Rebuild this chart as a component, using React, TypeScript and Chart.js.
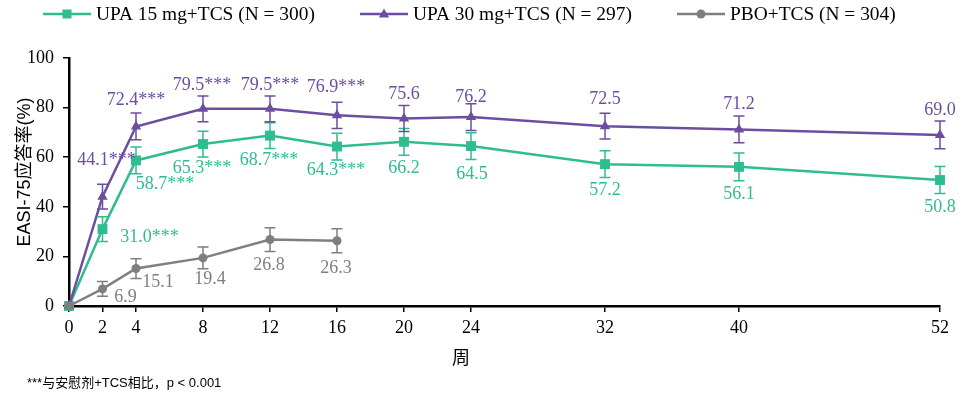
import { useEffect, useRef } from 'react'
import { Chart, registerables } from 'chart.js'

Chart.register(...registerables)

const WEEKS = [0, 2, 4, 8, 12, 16, 20, 24, 32, 40, 52]
const PBO_WEEKS = [0, 2, 4, 8, 12, 16]
const Y_TICKS = [0, 20, 40, 60, 80, 100]

const UPA15_RATE = [0, 31.0, 58.7, 65.3, 68.7, 64.3, 66.2, 64.5, 57.2, 56.1, 50.8]
const UPA15_ERR = [0, 5.0, 5.4, 5.2, 5.2, 5.4, 5.4, 5.4, 5.4, 5.6, 5.4]
const UPA15_SIG = [false, true, true, true, true, true, false, false, false, false, false]

const UPA30_RATE = [0, 44.1, 72.4, 79.5, 79.5, 76.9, 75.6, 76.2, 72.5, 71.2, 69.0]
const UPA30_ERR = [0, 5.0, 5.4, 5.2, 5.2, 5.3, 5.2, 5.4, 5.2, 5.4, 5.6]
const UPA30_SIG = [false, true, true, true, true, true, false, false, false, false, false]

const PBO_RATE = [0, 6.9, 15.1, 19.4, 26.8, 26.3]
const PBO_ERR = [0, 3.0, 4.0, 4.4, 4.8, 4.8]
const PBO_SIG = [false, false, false, false, false, false]

// label centre offset from its point, in px
const UPA15_LABEL_POS = [null, [47, 8], [29, 24], [-1, 24], [-1, 25], [-1, 24], [0, 26], [1, 28], [0, 26], [0, 27], [0, 27]]
const UPA30_LABEL_POS = [null, [4, -36], [0, -26], [-1, -24], [0, -24], [-1, -28], [0, -24], [0, -20], [0, -27], [0, -25], [0, -25]]
const PBO_LABEL_POS = [null, [23, 8], [22, 14], [7, 21], [-1, 26], [-1, 27]]

const TEAL = '#2fbd8f'
const PURPLE = '#6c4ea0'
const GRAY = '#7f7f7f'

const SERIF = '"Liberation Serif", "Times New Roman", serif'
const SANS = '"Liberation Sans", Arial, "Noto Sans CJK SC", sans-serif'

const SERIES = [
  { label: 'UPA 15 mg+TCS (N = 300)', weeks: WEEKS, rate: UPA15_RATE, err: UPA15_ERR, sig: UPA15_SIG, pos: UPA15_LABEL_POS, color: TEAL, style: 'rect', radius: 7, order: 2 },
  { label: 'UPA 30 mg+TCS (N = 297)', weeks: WEEKS, rate: UPA30_RATE, err: UPA30_ERR, sig: UPA30_SIG, pos: UPA30_LABEL_POS, color: PURPLE, style: 'triangle', radius: 6, order: 1 },
  { label: 'PBO+TCS (N = 304)', weeks: PBO_WEEKS, rate: PBO_RATE, err: PBO_ERR, sig: PBO_SIG, pos: PBO_LABEL_POS, color: GRAY, style: 'circle', radius: 4.5, order: 0 },
]

const LEGEND_X = [43, 360, 677]

function drawMarker(ctx: CanvasRenderingContext2D, style: string, x: number, y: number) {
  ctx.beginPath()
  if (style === 'rect') {
    ctx.rect(x - 4.5, y - 4.5, 9, 9)
  } else if (style === 'triangle') {
    ctx.moveTo(x, y - 5.5)
    ctx.lineTo(x + 5, y + 3.5)
    ctx.lineTo(x - 5, y + 3.5)
    ctx.closePath()
  } else {
    ctx.arc(x, y, 4.5, 0, Math.PI * 2)
  }
  ctx.fill()
}

const overlayPlugin = {
  id: 'overlay',
  afterDatasetsDraw(chart: any) {
    const ctx: CanvasRenderingContext2D = chart.ctx
    const xs = chart.scales.x
    const ys = chart.scales.y
    SERIES.forEach((s) => {
      ctx.save()
      ctx.strokeStyle = s.color
      ctx.lineWidth = 1.5
      s.weeks.forEach((w, i) => {
        const e = s.err[i]
        if (!e) return
        const px = xs.getPixelForValue(w)
        const top = ys.getPixelForValue(s.rate[i] + e)
        const bot = ys.getPixelForValue(s.rate[i] - e)
        ctx.beginPath()
        ctx.moveTo(px, top)
        ctx.lineTo(px, bot)
        ctx.moveTo(px - 5.5, top)
        ctx.lineTo(px + 5.5, top)
        ctx.moveTo(px - 5.5, bot)
        ctx.lineTo(px + 5.5, bot)
        ctx.stroke()
      })
      ctx.fillStyle = s.color
      ctx.font = `18px ${SERIF}`
      ctx.textAlign = 'center'
      ctx.textBaseline = 'middle'
      s.weeks.forEach((w, i) => {
        const p = s.pos[i]
        if (!p) return
        const px = xs.getPixelForValue(w)
        const py = ys.getPixelForValue(s.rate[i])
        const text = s.rate[i].toFixed(1) + (s.sig[i] ? '***' : '')
        ctx.fillText(text, px + p[0], py + p[1])
      })
      ctx.restore()
    })
  },
  afterDraw(chart: any) {
    const ctx: CanvasRenderingContext2D = chart.ctx
    ctx.save()
    // legend
    ctx.textBaseline = 'middle'
    ctx.textAlign = 'left'
    ctx.font = `19.4px ${SERIF}`
    SERIES.forEach((s, i) => {
      const x0 = LEGEND_X[i]
      const y = 14
      ctx.strokeStyle = s.color
      ctx.fillStyle = s.color
      ctx.lineWidth = 2.5
      ctx.beginPath()
      ctx.moveTo(x0, y)
      ctx.lineTo(x0 + 48, y)
      ctx.stroke()
      drawMarker(ctx, s.style, x0 + 24, y)
      ctx.fillStyle = '#000'
      ctx.fillText(s.label, x0 + 53, y + 1)
    })
    // axis titles
    ctx.fillStyle = '#000'
    ctx.font = `18px ${SANS}`
    ctx.save()
    ctx.translate(25, 172)
    ctx.rotate(-Math.PI / 2)
    ctx.textAlign = 'center'
    ctx.fillText('EASI-75应答率(%)', 0, 0)
    ctx.restore()
    ctx.textAlign = 'center'
    ctx.font = `18px ${SANS}`
    ctx.fillText('周', 461, 359)
    ctx.textAlign = 'left'
    ctx.font = `13px ${SANS}`
    ctx.fillText('***与安慰剂+TCS相比，p < 0.001', 27, 383)
    ctx.restore()
  },
}

export default function App() {
  const canvasRef = useRef<HTMLCanvasElement>(null)
  const chartRef = useRef<Chart | null>(null)

  useEffect(() => {
    if (!canvasRef.current) return
    if (chartRef.current) chartRef.current.destroy()

    chartRef.current = new Chart(canvasRef.current, {
      type: 'line',
      data: {
        datasets: SERIES.map((s) => ({
          label: s.label,
          data: s.weeks.map((w, i) => ({ x: w, y: s.rate[i] })),
          borderColor: s.color,
          backgroundColor: s.color,
          borderWidth: 2.5,
          pointStyle: s.style as any,
          pointRadius: s.radius,
          pointBorderWidth: 0,
          tension: 0,
          fill: false,
          order: s.order,
          clip: false as any,
        })),
      },
      options: {
        animation: false,
        responsive: true,
        maintainAspectRatio: false,
        layout: { padding: { left: 0, top: 58, right: 23, bottom: 0 } },
        plugins: {
          legend: { display: false },
          tooltip: { enabled: false },
        },
        scales: {
          x: {
            type: 'linear',
            min: 0,
            max: 52,
            afterBuildTicks: (scale: any) => {
              scale.ticks = WEEKS.map((v) => ({ value: v }))
            },
            afterFit: (scale: any) => {
              scale.height = 95
            },
            grid: { drawOnChartArea: false, drawTicks: true, tickLength: 6, color: '#000', lineWidth: 1.5 },
            border: { display: true, color: '#000', width: 2.5 },
            ticks: {
              font: { family: SERIF, size: 18 },
              color: '#000',
              padding: 5,
              maxRotation: 0,
              autoSkip: false,
            },
          },
          y: {
            min: 0,
            max: 100,
            afterBuildTicks: (scale: any) => {
              scale.ticks = Y_TICKS.map((v) => ({ value: v }))
            },
            afterFit: (scale: any) => {
              scale.width = 69
            },
            grid: { drawOnChartArea: false, drawTicks: true, tickLength: 6, color: '#000', lineWidth: 1.5 },
            border: { display: true, color: '#000', width: 2.5 },
            ticks: {
              font: { family: SERIF, size: 18 },
              color: '#000',
              padding: 9,
            },
          },
        },
      },
      plugins: [overlayPlugin],
    })

    return () => {
      if (chartRef.current) {
        chartRef.current.destroy()
        chartRef.current = null
      }
    }
  }, [])

  return (
    <div style={{ position: 'absolute', left: 0, top: 0, width: 963, height: 401, background: '#fff' }}>
      <canvas ref={canvasRef} />
    </div>
  )
}
